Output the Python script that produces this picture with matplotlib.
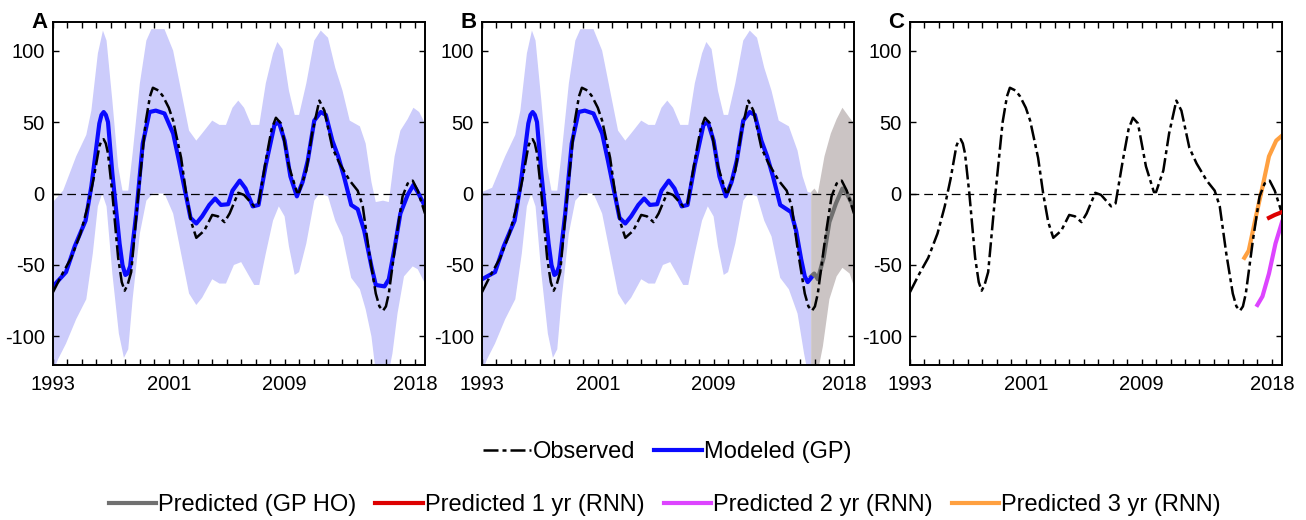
import matplotlib
matplotlib.use("Agg")
import matplotlib.pyplot as plt
from matplotlib.lines import Line2D
import numpy as np

plt.rcParams['font.family'] = ['Liberation Sans', 'DejaVu Sans']
plt.rcParams['axes.unicode_minus'] = False

# observed anomaly (black dash-dot)
obs_x = [1993.0, 1993.6, 1994.26, 1994.9, 1995.4, 1995.8, 1996.2, 1996.35, 1996.5, 1996.65,
         1996.8, 1997.1, 1997.5, 1997.75, 1997.95, 1998.15, 1998.4, 1998.9, 1999.4, 1999.7,
         1999.9, 2000.3, 2000.6, 2001.0, 2001.3, 2001.85, 2002.2, 2002.55, 2002.9, 2003.45,
         2004.0, 2004.4, 2004.85, 2005.2, 2005.8, 2006.2, 2006.9, 2007.2, 2007.7, 2008.1,
         2008.4, 2008.75, 2009.3, 2009.85, 2010.0, 2010.5, 2010.9, 2011.4, 2011.75, 2012.3,
         2012.8, 2013.5, 2014.05, 2014.4, 2014.85, 2015.3, 2015.55, 2015.8, 2016.0, 2016.2,
         2016.7, 2017.15, 2017.5, 2017.85, 2018.2, 2018.7]
obs_y = [-69, -57, -45, -28, -9, 10, 33, 37, 38, 35,
         28, 0, -45, -62, -68, -64, -55, 0, 50, 68,
         74, 72, 68, 60, 51, 25, 0, -20, -31, -26,
         -15, -16, -20, -14, 0.5, -1, -9, -7, 23, 45,
         53, 49, 19, 1, 1, 16, 42, 65, 58, 32,
         21, 9, 2, -9, -42, -70, -79, -82, -79, -70,
         -32, -2, 7, 9, 2, -14]

# modeled GP mean (blue), full period
gp_x = [1993.0, 1993.9, 1994.5, 1995.25, 1995.65, 1996.2, 1996.35, 1996.5, 1996.65, 1996.8,
        1997.1, 1997.6, 1997.8, 1998.0, 1998.15, 1998.33, 1998.75, 1999.2, 1999.67, 2000.1,
        2000.7, 2001.3, 2001.7, 2002.2, 2002.5, 2002.9, 2003.3, 2003.8, 2004.2, 2004.6,
        2005.1, 2005.4, 2005.9, 2006.3, 2006.8, 2007.2, 2007.7, 2008.3, 2008.6, 2009.0,
        2009.4, 2009.85, 2010.24, 2010.6, 2011.05, 2011.5, 2011.85, 2012.3, 2012.7, 2013.1,
        2013.6, 2014.05, 2014.5, 2015.0, 2015.3, 2015.9, 2016.2, 2016.6, 2017.0, 2017.5,
        2017.9, 2018.2, 2018.7]
gp_y = [-65, -55, -37, -19, 5, 49, 55, 57, 55, 50,
        14, -35, -50, -57, -56, -51, -14, 35, 57, 58,
        56, 42, 23, -2, -17, -21, -16, -8, -3.5, -8,
        -7.5, 2, 9, 3.5, -9, -8, 20, 48, 50, 37,
        12, -2, 8, 23, 51, 57, 55, 37, 26, 12,
        -8, -11, -26, -51, -64, -65, -60, -38, -14, -1,
        6, 1, -9]

# GP 95% band, full period
band_up_x = [1993.0, 1993.7, 1994.6, 1995.3, 1995.65, 1996.1, 1996.45, 1996.7, 1997.1, 1997.5,
             1997.8, 1998.2, 1998.5, 1999.0, 1999.45, 1999.8, 2000.7, 2001.3, 2001.85, 2002.4,
             2002.9, 2003.3, 2004.0, 2004.5, 2004.95, 2005.4, 2005.8, 2006.2, 2006.7, 2007.25,
             2007.7, 2008.2, 2008.5, 2008.86, 2009.3, 2009.7, 2010.0, 2010.5, 2011.05, 2011.5,
             2012.0, 2012.5, 2013.0, 2013.5, 2014.2, 2014.6, 2015.0, 2015.3, 2015.8, 2016.2,
             2016.6, 2017.0, 2017.5, 2017.9, 2018.3, 2018.7]
band_up_y = [-6, 2, 26, 41, 58, 98, 114, 107, 65, 19,
             2, 2, 28, 77, 107, 115, 115, 100, 72, 44,
             37, 42, 51, 48, 48, 60, 65, 60, 48, 48,
             77, 98, 106, 101, 72, 55, 55, 77, 107, 114,
             109, 88, 72, 51, 47, 35, 8, -6, -5, -6,
             26, 44, 52, 60, 57, 49]
band_lo_x = [1993.0, 1993.35, 1993.9, 1994.6, 1995.3, 1995.75, 1996.1, 1996.4, 1996.7, 1997.1,
             1997.55, 1997.9, 1998.2, 1998.5, 1999.0, 1999.45, 1999.9, 2000.7, 2001.3, 2001.85,
             2002.4, 2002.9, 2003.3, 2004.0, 2004.5, 2004.95, 2005.5, 2006.0, 2006.45, 2006.9,
             2007.25, 2007.7, 2008.2, 2008.6, 2009.0, 2009.3, 2009.7, 2010.0, 2010.5, 2011.05,
             2011.4, 2012.0, 2012.5, 2013.0, 2013.6, 2014.2, 2014.6, 2015.0, 2015.3, 2016.2,
             2016.45, 2016.8, 2017.25, 2017.85, 2018.2, 2018.7]
band_lo_y = [-125, -116, -105, -88, -74, -42, -9, 0, -9, -56,
             -98, -115, -109, -74, -28, -5, 0, 0, -14, -42,
             -70, -78, -73, -60, -63, -63, -50, -48, -56, -64,
             -64, -42, -19, -9, -16, -37, -57, -55, -35, -5,
             0, -2, -19, -30, -59, -67, -81, -100, -125, -125,
             -112, -84, -58, -51, -53, -63]

# panel B: GP fit up to the hold-out, then GP HO prediction
gpb_x = [1993.0, 1993.9, 1994.5, 1995.25, 1995.65, 1996.2, 1996.35, 1996.5, 1996.65, 1996.8,
         1997.1, 1997.6, 1997.8, 1998.0, 1998.15, 1998.33, 1998.75, 1999.2, 1999.67, 2000.1,
         2000.7, 2001.3, 2001.7, 2002.2, 2002.5, 2002.9, 2003.3, 2003.8, 2004.2, 2004.6,
         2005.1, 2005.4, 2005.9, 2006.3, 2006.8, 2007.2, 2007.7, 2008.3, 2008.6, 2009.0,
         2009.4, 2009.85, 2010.24, 2010.6, 2011.05, 2011.5, 2011.85, 2012.3, 2012.7, 2013.1,
         2013.6, 2014.05, 2014.35, 2014.7, 2015.05, 2015.3, 2015.5, 2015.74]
gpb_y = [-60, -55, -37, -19, 5, 49, 55, 57, 55, 50,
         14, -35, -50, -57, -56, -51, -14, 35, 57, 58,
         56, 42, 23, -2, -17, -21, -16, -8, -3.5, -8,
         -7.5, 2, 9, 3.5, -9, -8, 20, 48, 50, 37,
         12, -2, 8, 23, 51, 57, 55, 37, 26, 12,
         -8, -11, -13, -26, -46, -58, -62, -59]
bandb_up_x = [1993.0, 1993.7, 1994.6, 1995.3, 1995.65, 1996.1, 1996.45, 1996.7, 1997.1, 1997.5,
              1997.8, 1998.2, 1998.5, 1999.0, 1999.45, 1999.8, 2000.7, 2001.3, 2001.85, 2002.4,
              2002.9, 2003.3, 2004.0, 2004.5, 2004.95, 2005.4, 2005.8, 2006.2, 2006.7, 2007.25,
              2007.7, 2008.2, 2008.5, 2008.86, 2009.3, 2009.7, 2010.0, 2010.5, 2011.05, 2011.5,
              2012.0, 2012.5, 2013.0, 2013.5, 2014.2, 2014.8, 2015.15, 2015.5, 2015.74]
bandb_up_y = [1, 4, 26, 41, 58, 98, 114, 107, 65, 19,
              2, 2, 28, 77, 107, 115, 115, 100, 72, 44,
              37, 42, 51, 48, 48, 60, 65, 60, 48, 48,
              77, 98, 106, 101, 72, 55, 55, 77, 107, 114,
              109, 88, 72, 51, 47, 30, 12, 1, 0.5]
bandb_lo_x = [1993.0, 1993.35, 1993.9, 1994.6, 1995.3, 1995.75, 1996.1, 1996.4, 1996.7, 1997.1,
              1997.55, 1997.9, 1998.2, 1998.5, 1999.0, 1999.45, 1999.9, 2000.7, 2001.3, 2001.85,
              2002.4, 2002.9, 2003.3, 2004.0, 2004.5, 2004.95, 2005.5, 2006.0, 2006.45, 2006.9,
              2007.25, 2007.7, 2008.2, 2008.6, 2009.0, 2009.3, 2009.7, 2010.0, 2010.5, 2011.05,
              2011.4, 2012.0, 2012.5, 2013.0, 2013.6, 2014.2, 2014.8, 2015.25, 2015.5, 2015.74]
bandb_lo_y = [-125, -116, -105, -88, -74, -42, -9, 0, -9, -56,
              -98, -115, -109, -74, -28, -5, 0, 0, -14, -42,
              -70, -78, -73, -60, -63, -63, -50, -48, -56, -64,
              -64, -42, -19, -9, -16, -37, -57, -55, -35, -5,
              0, -2, -19, -30, -59, -67, -84, -112, -125, -125]

ho_x = [2015.74, 2015.95, 2016.2, 2016.6, 2017.0, 2017.45, 2017.9, 2018.2, 2018.7]
ho_y = [-58, -56, -60, -45, -20, -7, 3.5, 0, -10]
ho_up_x = [2015.74, 2015.97, 2016.2, 2016.66, 2017.1, 2017.5, 2017.9, 2018.4, 2018.7]
ho_up_y = [1, 3.5, 0, 26, 42, 52, 60, 53, 49]
ho_lo_x = [2015.74, 2016.2, 2016.55, 2017.0, 2017.5, 2017.9, 2018.4, 2018.7]
ho_lo_y = [-125, -125, -107, -74, -58, -52, -56, -65]

# panel C: RNN forecasts
rnn1_x = [2017.8, 2018.2, 2018.7]
rnn1_y = [-17, -15, -13]
rnn2_x = [2017.0, 2017.35, 2017.8, 2018.25, 2018.7]
rnn2_y = [-78, -72, -56, -35, -20]
rnn3_x = [2016.1, 2016.4, 2016.9, 2017.36, 2017.8, 2018.3, 2018.7]
rnn3_y = [-45, -40, -16, 5, 26, 37, 40.5]

year_ticks = [1993, 2001, 2009, 2018]
y_ticks = [-100, -50, 0, 50, 100]

c_blue = '#0a0aff'
c_band = '#ccccfb'
c_ho_band = '#cbc4c4'
c_ho = '#707070'
c_red = '#dd0000'
c_mag = '#dd44ff'
c_orange = '#ffa040'
obs_dash = (0, (6, 1.6, 1.6, 1.6))


def style_axes(ax, letter):
    ax.set_xlim(1993, 2018.7)
    ax.set_ylim(-120, 120)
    ax.set_xticks(year_ticks)
    ax.set_xticks(np.arange(1994, 2019), minor=True)
    ax.set_yticks(y_ticks)
    ax.tick_params(which='both', direction='in', top=True, right=True,
                   labelsize=14.5, width=1, length=4, pad=6)
    ax.tick_params(axis='x', pad=7)
    for s in ax.spines.values():
        s.set_linewidth(1.4)
    ax.axhline(0, color='black', lw=0.9, ls=(0, (7, 4)), zorder=1)
    ax.text(-0.015, 1.0, letter, transform=ax.transAxes, ha='right', va='center',
            fontsize=16, fontweight='bold')


fig = plt.figure(figsize=(13.06, 5.2), dpi=100)
w = 372 / 1306
h = 343 / 520
bottom = 1 - 365 / 520
axA = fig.add_axes([53 / 1306, bottom, w, h])
axB = fig.add_axes([482 / 1306, bottom, w, h])
axC = fig.add_axes([910 / 1306, bottom, w, h])

# A
axA.fill(np.r_[band_up_x, band_lo_x[::-1]], np.r_[band_up_y, band_lo_y[::-1]],
         color=c_band, lw=0, zorder=0)
axA.plot(obs_x, obs_y, color='black', lw=1.8, ls=obs_dash, zorder=3)
axA.plot(gp_x, gp_y, color=c_blue, lw=3, zorder=2)
style_axes(axA, 'A')

# B
axB.fill(np.r_[bandb_up_x, bandb_lo_x[::-1]], np.r_[bandb_up_y, bandb_lo_y[::-1]],
         color=c_band, lw=0, zorder=0)
axB.fill(np.r_[ho_up_x, ho_lo_x[::-1]], np.r_[ho_up_y, ho_lo_y[::-1]],
         color=c_ho_band, lw=0, zorder=0)
axB.plot(ho_x, ho_y, color=c_ho, lw=3, zorder=2)
axB.plot(obs_x, obs_y, color='black', lw=1.8, ls=obs_dash, zorder=3)
axB.plot(gpb_x, gpb_y, color=c_blue, lw=3, zorder=2)
style_axes(axB, 'B')

# C
axC.plot(obs_x, obs_y, color='black', lw=1.8, ls=obs_dash, zorder=3)
axC.plot(rnn3_x, rnn3_y, color=c_orange, lw=3, zorder=2)
axC.plot(rnn2_x, rnn2_y, color=c_mag, lw=3, zorder=2)
axC.plot(rnn1_x, rnn1_y, color=c_red, lw=3, zorder=4)
style_axes(axC, 'C')

row1 = [Line2D([], [], color='black', lw=1.8, ls=obs_dash),
        Line2D([], [], color=c_blue, lw=3)]
row2 = [Line2D([], [], color=c_ho, lw=3),
        Line2D([], [], color=c_red, lw=3),
        Line2D([], [], color=c_mag, lw=3),
        Line2D([], [], color=c_orange, lw=3)]
fig.legend(row1, ['Observed', 'Modeled (GP)'], loc='center', bbox_to_anchor=(0.511, 0.131),
           ncol=2, frameon=False, fontsize=17, handlelength=2.0, handletextpad=0.1,
           columnspacing=0.8)
fig.legend(row2, ['Predicted (GP HO)', 'Predicted 1 yr (RNN)', 'Predicted 2 yr (RNN)',
                  'Predicted 3 yr (RNN)'], loc='center', bbox_to_anchor=(0.509, 0.029),
           ncol=4, frameon=False, fontsize=17, handlelength=2.0, handletextpad=0.1,
           columnspacing=0.8)

fig.savefig('out.png', dpi=100)
